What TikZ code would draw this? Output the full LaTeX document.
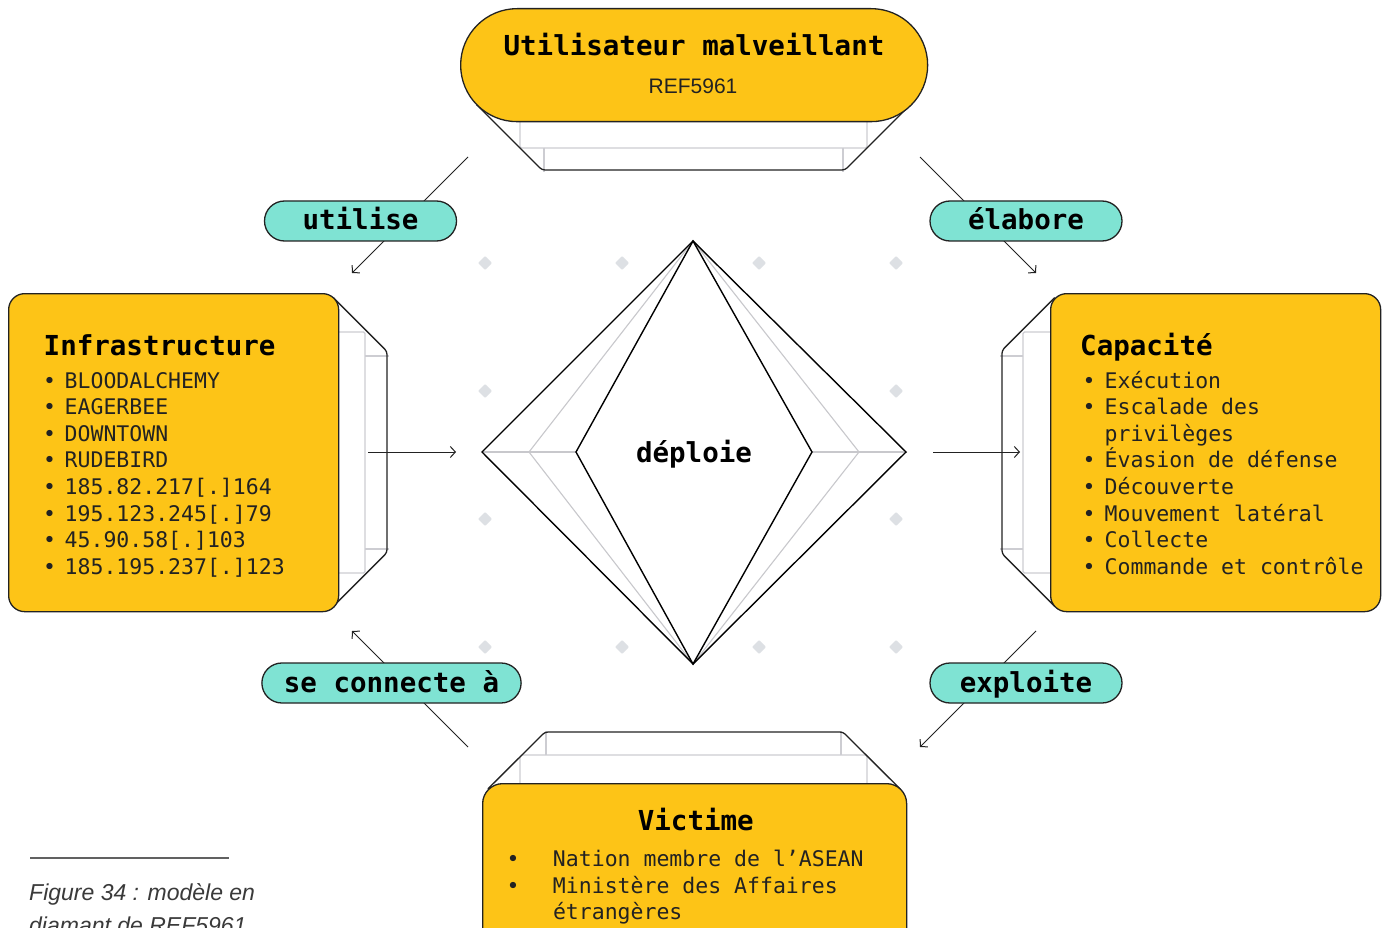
\documentclass[tikz,border=0pt]{standalone}
\usepackage{fontspec}
\setmainfont{Liberation Sans}
\newfontfamily\dmMono{DejaVu Sans Mono}
\usetikzlibrary{arrows.meta}

\definecolor{boxyellow}{HTML}{FDC417}
\definecolor{pillteal}{HTML}{7FE3D3}
\definecolor{layergray}{HTML}{CDCDD2}
\definecolor{diagray}{HTML}{C8C8CC}
\definecolor{dotgray}{HTML}{DDE0E4}
\definecolor{ink}{HTML}{222222}
\definecolor{capgray}{HTML}{3A3A3A}

\newcommand\dmTitle{\dmMono\bfseries\fontsize{27.5}{30}\selectfont}
\newcommand\dmBody{\dmMono\fontsize{21.5}{26.6}\selectfont}
\newcommand\dmBul[1]{\makebox[#1][l]{\hspace*{-0.5pt}•}}

\tikzset{
  ybox/.style={draw=ink, line width=1.3pt, fill=boxyellow, rounded corners=16pt, inner sep=0pt},
  sidewall/.style={draw=ink, line width=1.3pt, rounded corners=3pt},
  layer/.style={draw=layergray, line width=1.2pt, rounded corners=1.5pt},
  conn/.style={draw=ink, line width=1pt, -{Straight Barb[length=5pt,width=11pt]}},
  pill/.style={draw=ink, line width=1.3pt, fill=pillteal, rounded corners=20pt,
    minimum height=40pt, minimum width=192pt, inner xsep=22pt, inner ysep=0pt,
    font=\dmTitle, text=black, text height=18pt, text depth=0pt},
  ttl/.style={font=\dmTitle, text=black, inner sep=0pt},
  itm/.style={font=\dmBody, text=ink, inner sep=0pt},
  dia/.style={draw=black, line width=1.4pt},
  diathin/.style={draw=diagray, line width=1.1pt},
}

\begin{document}
\begin{tikzpicture}[x=1pt, y=-1pt]
\useasboundingbox (0,0) rectangle (1382,928);
\clip (0,0) rectangle (1382,928);
\fill[white] (0,0) rectangle (1382,928);

% background grid of small diamonds
\foreach \x/\y in {485/263, 622/263, 759/263, 896/263, 485/391, 896/391,
                   485/519, 896/519, 485/647, 622/647, 759/647, 896/647}
  \fill[dotgray, rounded corners=1pt] ({\x},{\y-7}) -- ({\x+7},{\y}) -- ({\x},{\y+7}) -- ({\x-7},{\y}) -- cycle;

% central diamond
\coordinate (dT) at (693,241);
\coordinate (dB) at (693,664);
\coordinate (dL1) at (482,452);
\coordinate (dL2) at (529,452);
\coordinate (dL3) at (576,452);
\coordinate (dR3) at (812,452);
\coordinate (dR2) at (859,452);
\coordinate (dR1) at (906,452);
\fill[white] (dT) -- (dL1) -- (dB) -- (dR1) -- cycle;
\draw[diathin] (dL1) -- (dL3) (dR3) -- (dR1);
\draw[diathin] (dT) -- (dL2) -- (dB) (dT) -- (dR2) -- (dB);
\draw[dia] (dT) -- (dL1) -- (dB) -- (dR1) -- cycle;
\draw[dia] (dT) -- (dL3) -- (dB) -- (dR3) -- cycle;
\node[ttl, anchor=base] (deploy) at (694,462.7) {déploie};

% top: adversary
\draw[layer] (520,110) -- (520,148) -- (867,148) -- (867,110);
\draw[layer] (544,148) -- (544,172) (843,148) -- (843,172);
\draw[sidewall] (476.5,104.5) -- (542,170) -- (845,170) -- (910.5,104.5);
\node[ybox, rounded corners=56.5pt, minimum width=467pt, minimum height=113pt, anchor=north west] (actor) at (460,8) {};
\node[ttl, anchor=base] (actorT) at (694,56) {Utilisateur malveillant};
\node[anchor=base, inner sep=0pt, text=ink, font=\fontsize{21}{24}\selectfont] (actorR) at (693,93.3) {REF5961};

% left: infrastructure
\draw[layer] (330,332) -- (365,332) -- (365,573) -- (330,573);
\draw[layer] (365,356) -- (389,356) (365,549) -- (389,549);
\draw[sidewall] (333.3,297.7) -- (387,351.4) -- (387,552.6) -- (333.3,606.3);
\node[ybox, minimum width=330pt, minimum height=318pt, anchor=north west] (infra) at (8,293) {};
\node[ttl, anchor=base west] (infraT) at (43.5,355) {Infrastructure};
\foreach \t [count=\i] in {BLOODALCHEMY, EAGERBEE, DOWNTOWN, RUDEBIRD,
    185.82.217[.]164, 195.123.245[.]79, 45.90.58[.]103, 185.195.237[.]123}
  \node[itm, anchor=base west] (infra\i) at (43.5,{388+26.6*(\i-1)}) {\dmBul{21pt}\t};

% right: capability
\draw[layer] (1058,332) -- (1023,332) -- (1023,573) -- (1058,573);
\draw[layer] (1023,356) -- (1000,356) (1023,549) -- (1000,549);
\draw[sidewall] (1054.7,297.7) -- (1002,350.4) -- (1002,553.6) -- (1054.7,606.3);
\node[ybox, minimum width=330pt, minimum height=318pt, anchor=north west] (capa) at (1050,293) {};
\node[ttl, anchor=base west] (capaT) at (1080,355) {Capacité};
\foreach \b/\t [count=\i] in {1/Exécution, 1/Escalade des, 0/privilèges,
    1/Évasion de défense, 1/Découverte, 1/Mouvement latéral, 1/Collecte,
    1/Commande et contrôle}
  \node[itm, anchor=base west] (capa\i) at (1083,{388+26.6*(\i-1)})
    {\ifnum\b=1 \dmBul{21.5pt}\else\hspace*{21.5pt}\fi\t};

% bottom: victim
\draw[layer] (520,790) -- (520,755) -- (867,755) -- (867,790);
\draw[layer] (546,755) -- (546,731) (841,755) -- (841,731);
\draw[sidewall] (487.9,788.9) -- (545,732) -- (843,732) -- (900.1,788.9);
\node[ybox, rounded corners=20pt, minimum width=424pt, minimum height=220pt, anchor=north west] (vict) at (482,783) {};
\node[ttl, anchor=base] (victT) at (695.8,830) {Victime};
\node[itm, anchor=base west] (vict1) at (506.8,866.7) {\dmBul{46pt}Nation membre de l’ASEAN};
\node[itm, anchor=base west] (vict2) at (506.8,893.3) {\dmBul{46pt}Ministère des Affaires};
\node[itm, anchor=base west] (vict3) at (506.8,919.9) {\hspace*{46pt}étrangères};

% horizontal flows through the diamond
\coordinate (infraOut) at (368,452);
\coordinate (diaIn) at (456,452);
\coordinate (diaOut) at (933,452);
\coordinate (capaIn) at (1020,452);
\draw[conn] (infraOut) -- (diaIn);
\draw[conn] (diaOut) -- (capaIn);

% diagonal relations with their labels
\coordinate (useA) at (468,157);   \coordinate (useB) at (352,273);
\coordinate (devA) at (920,157);   \coordinate (devB) at (1036,273);
\coordinate (conA) at (468,747);   \coordinate (conB) at (352,631);
\coordinate (expA) at (1036,631);  \coordinate (expB) at (920,747);
\draw[conn] (useA) -- (useB);
\draw[conn] (devA) -- (devB);
\draw[conn] (conA) -- (conB);
\draw[conn] (expA) -- (expB);
\node[pill] (lblUse) at (360.5,221) {utilise};
\node[pill] (lblDev) at (1026,221) {élabore};
\node[pill] (lblCon) at (391.5,683) {se connecte à};
\node[pill] (lblExp) at (1026,683) {exploite};

% caption
\coordinate (ruleA) at (30,858);
\coordinate (ruleB) at (229,858);
\draw[draw=capgray!80, line width=1.5pt] (ruleA) -- (ruleB);
\node[anchor=base west, inner sep=0pt, text=capgray, font=\itshape\fontsize{23}{28}\selectfont] (cap1) at (29,900) {Figure 34 : modèle en};
\node[anchor=base west, inner sep=0pt, text=capgray, font=\itshape\fontsize{23}{28}\selectfont] (cap2) at (29,933.4) {diamant de REF5961};
\end{tikzpicture}
\end{document}
